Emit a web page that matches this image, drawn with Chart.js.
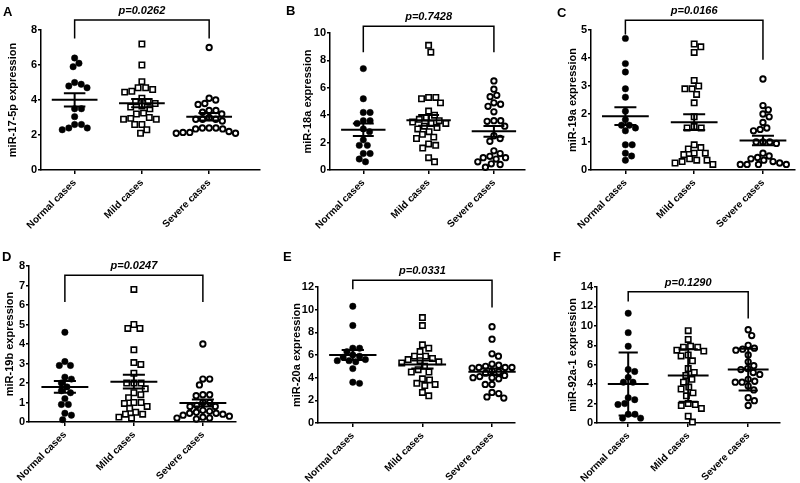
<!DOCTYPE html>
<html>
<head>
<meta charset="utf-8">
<script src="https://cdn.jsdelivr.net/npm/chart.js@4.4.1/dist/chart.umd.min.js"></script>
<style>
  html, body { margin: 0; padding: 0; background: #fff; }
  #wrap { position: relative; width: 800px; height: 483px; overflow: hidden; }
  #wrap canvas { position: absolute; }
  .letter { position: absolute; font: bold 13px 'Liberation Sans', Arial, sans-serif; line-height: 13px; color: #000; }
</style>
</head>
<body>
<div id="wrap"></div>
<script>
const groups = ['Normal cases', 'Mild cases', 'Severe cases'];

// A: miR-17-5p
const a_normal = [6.4, 6.1, 5.9, 5.0, 4.9, 4.8, 4.7, 3.5, 3.5, 3.05, 2.6, 2.6, 2.4, 2.4, 2.3];
const a_mild = [7.2, 6.0, 5.05, 4.7, 4.7, 4.6, 4.5, 4.45, 4.1, 3.9, 3.9, 3.8, 3.65, 3.6, 3.5, 3.25, 3.2, 3.0, 2.95, 2.9, 2.9, 2.6, 2.6, 2.3, 2.1];
const a_severe = [7.0, 4.1, 4.0, 3.8, 3.75, 3.4, 3.4, 3.3, 3.2, 3.0, 2.9, 2.9, 2.9, 2.8, 2.4, 2.4, 2.35, 2.35, 2.4, 2.2, 2.15, 2.1, 2.1, 2.15];
// B: miR-18a
const b_normal = [7.4, 5.2, 4.2, 4.2, 3.6, 3.6, 3.4, 3.0, 2.8, 2.2, 1.8, 1.8, 1.2, 1.2, 0.8, 0.6];
const b_mild = [9.1, 8.6, 5.3, 5.3, 5.2, 4.9, 4.3, 4.0, 3.8, 3.7, 3.6, 3.5, 3.4, 3.4, 3.2, 3.1, 3.0, 2.8, 2.6, 2.4, 2.3, 1.9, 1.8, 1.6, 0.9, 0.6];
const b_severe = [6.5, 5.9, 5.45, 5.35, 4.9, 4.8, 4.65, 4.25, 3.6, 3.6, 3.55, 3.2, 2.5, 2.3, 2.1, 1.4, 1.2, 1.0, 0.9, 0.9, 0.8, 0.6, 0.45, 0.4, 0.2];
// C: miR-19a
const c_normal = [4.7, 3.8, 3.5, 2.9, 2.6, 2.1, 1.8, 1.6, 1.6, 1.5, 1.4, 0.9, 0.9, 0.6, 0.5, 0.35];
const c_mild = [4.5, 4.4, 4.2, 3.2, 3.0, 2.9, 2.9, 2.7, 2.4, 1.9, 1.55, 1.5, 1.5, 0.9, 0.8, 0.75, 0.6, 0.6, 0.55, 0.4, 0.35, 0.35, 0.3, 0.25, 0.2];
const c_severe = [3.25, 2.3, 2.15, 2.0, 1.9, 1.7, 1.5, 1.45, 1.4, 1.0, 1.0, 1.0, 0.95, 0.6, 0.5, 0.45, 0.4, 0.35, 0.3, 0.25, 0.2, 0.2, 0.2, 0.2];
// D: miR-19b
const d_normal = [4.6, 3.1, 2.9, 2.9, 2.3, 2.2, 2.0, 1.8, 1.6, 1.5, 1.2, 0.9, 0.9, 0.45, 0.35, 0.12];
const d_mild = [6.8, 5.0, 4.8, 4.8, 3.7, 3.05, 2.95, 2.5, 2.0, 2.0, 2.0, 1.7, 1.5, 1.4, 1.25, 1.0, 1.0, 0.95, 0.8, 0.7, 0.5, 0.4, 0.4, 0.25, 0.2];
const d_severe = [4.0, 2.2, 2.2, 1.9, 1.4, 1.4, 1.35, 1.0, 1.0, 0.85, 0.8, 0.8, 0.6, 0.55, 0.5, 0.45, 0.45, 0.4, 0.35, 0.3, 0.25, 0.2, 0.2, 0.15];
// E: miR-20a
const e_normal = [10.3, 8.6, 6.6, 6.6, 6.3, 6.0, 5.8, 5.9, 5.6, 5.5, 5.5, 5.4, 4.8, 3.6, 3.5];
const e_mild = [9.3, 8.6, 6.9, 6.6, 6.3, 5.9, 5.9, 5.7, 5.6, 5.5, 5.4, 5.3, 5.0, 4.7, 4.5, 4.5, 3.9, 3.8, 3.5, 3.4, 3.3, 2.7, 2.4];
const e_severe = [8.5, 7.4, 6.1, 5.9, 5.2, 5.1, 5.0, 4.9, 4.9, 4.9, 4.85, 4.6, 4.5, 4.4, 4.2, 4.1, 4.0, 4.0, 3.9, 3.4, 3.4, 2.7, 2.6, 2.3, 2.2];
// F: miR-92a-1
const f_normal = [11.3, 9.3, 7.9, 5.5, 5.3, 4.7, 4.2, 4.2, 2.6, 2.4, 2.0, 1.9, 0.9, 0.9, 0.5, 0.5];
const f_mild = [9.5, 8.6, 7.9, 7.8, 7.8, 7.5, 7.4, 7.0, 6.9, 6.4, 5.6, 5.2, 4.9, 4.5, 4.2, 3.7, 3.5, 3.1, 2.8, 2.0, 1.9, 1.8, 1.5, 0.7, 0.1];
const f_severe = [9.6, 9.0, 8.0, 7.7, 7.6, 7.5, 7.0, 6.3, 5.9, 5.6, 5.5, 5.2, 5.0, 4.5, 4.3, 4.2, 4.2, 3.8, 3.4, 2.6, 2.3, 1.8];

const panelLetters = ['A', 'B', 'C', 'D', 'E', 'F'];
const yTitles = ['miR-17-5p expression', 'miR-18a expression', 'miR-19a expression',
                 'miR-19b expression', 'miR-20a expression', 'miR-92a-1 expression'];
const pValues = ['0.0262', '0.7428', '0.0166', '0.0247', '0.0331', '0.1290'];
const yMax = [8, 10, 5, 8, 12, 14];
const yStep = [2, 2, 1, 1, 2, 2];
const errorKind = ['sem', 'sem', 'sem', 'sem', 'sem', 'sd'];
// significance bracket, in y units: top bar, left leg end, right leg end
const bracketTop = [8.57, 10.5, 5.35, 7.53, 12.6, 13.5];
const bracketLeft = [7.52, 8.6, 4.84, 6.16, 11.8, 12.5];
const bracketRight = [7.52, 8.6, 3.94, 6.16, 10.2, 10.75];

const series = [
  [a_normal, a_mild, a_severe],
  [b_normal, b_mild, b_severe],
  [c_normal, c_mild, c_severe],
  [d_normal, d_mild, d_severe],
  [e_normal, e_mild, e_severe],
  [f_normal, f_mild, f_severe]
];

// layout of each panel on the page (canvas box, plot area, x range, title centre, letter)
const boxes = [
  { x: 0,   y: 0,   w: 265, h: 240, area: [41, 30, 262, 170],  xr: [0.5, 3.75],  titleX: 13,  letter: [3, 5] },
  { x: 265, y: 0,   w: 265, h: 240, area: [330, 33, 533, 170], xr: [0.49, 3.47], titleX: 308, letter: [286, 4] },
  { x: 530, y: 0,   w: 270, h: 240, area: [591, 30, 797, 170], xr: [0.5, 3.46],  titleX: 573, letter: [557, 6] },
  { x: 0,   y: 240, w: 265, h: 243, area: [29, 266, 236, 422], xr: [0.48, 3.48], titleX: 10,  letter: [2, 250] },
  { x: 265, y: 240, w: 265, h: 243, area: [318, 287, 515, 423], xr: [0.5, 3.33],  titleX: 297, letter: [283, 250] },
  { x: 530, y: 240, w: 270, h: 243, area: [597, 287, 780, 423], xr: [0.48, 3.53], titleX: 573, letter: [553, 250] }
];

const FONT = "'Liberation Sans', Arial, sans-serif";
Chart.defaults.font.family = FONT;
Chart.defaults.color = '#000';

const pLabel = {
  id: 'pLabel',
  afterDraw(chart, args, opts) {
    const { ctx, scales: { x, y } } = chart;
    const cx = (x.getPixelForValue(1) + x.getPixelForValue(3)) / 2;
    const cy = y.getPixelForValue(opts.top) - 6;
    ctx.save();
    ctx.font = 'italic bold 11px ' + FONT;
    ctx.textAlign = 'center';
    ctx.textBaseline = 'alphabetic';
    ctx.fillStyle = '#000';
    ctx.fillText('p=' + opts.text, cx, cy);
    ctx.restore();
  }
};

function statsPath(groupVals, kind) {
  const path = [];
  groupVals.forEach((vals, g) => {
    const n = vals.length;
    const m = vals.reduce((s, v) => s + v, 0) / n;
    const sd = Math.sqrt(vals.reduce((s, v) => s + (v - m) * (v - m), 0) / (n - 1));
    const e = kind === 'sd' ? sd : sd / Math.sqrt(n);
    const c = g + 1;
    path.push(
      { x: c - 0.34, y: m }, { x: c + 0.34, y: m }, { x: c, y: null },
      { x: c - 0.16, y: m + e }, { x: c + 0.16, y: m + e }, { x: c, y: null },
      { x: c - 0.16, y: m - e }, { x: c + 0.16, y: m - e }, { x: c, y: null },
      { x: c, y: m - e }, { x: c, y: m + e }, { x: c, y: null }
    );
  });
  return path;
}

// spread points of one group sideways so they don't overlap (beeswarm)
function swarm(chart) {
  const xs = chart.scales.x, ys = chart.scales.y;
  const ppu = xs.width / (xs.max - xs.min);
  chart.data.datasets.forEach(ds => {
    if (!ds.swarm) return;
    const D = ds.swarm;
    const pts = ds.data.map((p, k) => ({ k, py: ys.getPixelForValue(p.y), x: 0 }));
    pts.sort((a, b) => a.py - b.py);
    const placed = [];
    pts.forEach(p => {
      const cands = [0];
      placed.forEach(q => {
        const dy = p.py - q.py;
        if (Math.abs(dy) < D) {
          const dx = Math.sqrt(D * D - dy * dy);
          cands.push(q.x + dx, q.x - dx);
        }
      });
      cands.sort((a, b) => Math.abs(a) - Math.abs(b));
      p.x = cands.find(c => placed.every(q => Math.hypot(c - q.x, p.py - q.py) >= D - 0.01));
      placed.push(p);
    });
    pts.forEach(p => { ds.data[p.k].x = ds.center + p.x / ppu; });
  });
  chart.update('none');
}

function makePanel(i) {
  const b = boxes[i];
  const wrap = document.getElementById('wrap');
  const canvas = document.createElement('canvas');
  canvas.width = b.w;
  canvas.height = b.h;
  canvas.style.left = b.x + 'px';
  canvas.style.top = b.y + 'px';
  canvas.style.width = b.w + 'px';
  canvas.style.height = b.h + 'px';
  wrap.appendChild(canvas);

  const letter = document.createElement('div');
  letter.className = 'letter';
  letter.textContent = panelLetters[i];
  letter.style.left = b.letter[0] + 'px';
  letter.style.top = b.letter[1] + 'px';
  wrap.appendChild(letter);

  const [L, T, R, B] = b.area;
  const yAxisW = L - b.x;
  const xAxisH = b.y + b.h - B;

  const datasets = series[i].map((vals, g) => ({
    type: 'scatter',
    data: vals.map(v => ({ x: g + 1, y: v })),
    center: g + 1,
    swarm: g === 1 ? 7.2 : 6.8,
    pointStyle: g === 1 ? 'rect' : 'circle',
    pointRadius: g === 0 ? 3.2 : (g === 1 ? 3.8 : 2.7),
    pointHoverRadius: g === 0 ? 3.2 : (g === 1 ? 3.8 : 2.7),
    backgroundColor: g === 0 ? '#000' : '#fff',
    borderColor: '#000',
    borderWidth: g === 0 ? 0.5 : (g === 1 ? 1.6 : 1.9),
    clip: false,
    order: 2
  }));

  datasets.push({
    type: 'line',
    data: statsPath(series[i], errorKind[i]),
    borderColor: '#000',
    borderWidth: 2,
    pointRadius: 0,
    spanGaps: false,
    fill: false,
    clip: false,
    order: 1
  });

  datasets.push({
    type: 'line',
    data: [{ x: 1, y: bracketLeft[i] }, { x: 1, y: bracketTop[i] },
           { x: 3, y: bracketTop[i] }, { x: 3, y: bracketRight[i] }],
    borderColor: '#000',
    borderWidth: 1.5,
    pointRadius: 0,
    fill: false,
    clip: false,
    order: 1
  });

  const titleSize = 11;
  const chart = new Chart(canvas, {
    type: 'scatter',
    data: { datasets },
    plugins: [pLabel],
    options: {
      responsive: false,
      animation: false,
      events: [],
      layout: { padding: { top: T - b.y, right: b.x + b.w - R, left: 0, bottom: 0 } },
      plugins: {
        legend: { display: false },
        tooltip: { enabled: false },
        pLabel: { text: pValues[i], top: bracketTop[i] }
      },
      scales: {
        x: {
          type: 'linear',
          min: b.xr[0],
          max: b.xr[1],
          afterBuildTicks: s => { s.ticks = [1, 2, 3].map(v => ({ value: v })); },
          afterFit: s => { s.height = xAxisH; },
          ticks: {
            callback: v => groups[v - 1],
            minRotation: 45,
            maxRotation: 45,
            autoSkip: false,
            padding: 3,
            color: '#000',
            font: { size: 10, weight: 'bold' }
          },
          grid: { display: true, drawOnChartArea: false, drawTicks: true, tickLength: 4, color: '#000', lineWidth: 1.5 },
          border: { display: true, color: '#000', width: 1.5 }
        },
        y: {
          min: 0,
          max: yMax[i],
          afterFit: s => { s.width = yAxisW; },
          ticks: { stepSize: yStep[i], padding: 1, color: '#000', font: { size: 11, weight: 'bold' } },
          grid: { display: true, drawOnChartArea: false, drawTicks: true, tickLength: 3, color: '#000', lineWidth: 1.5 },
          border: { display: true, color: '#000', width: 1.5 },
          title: {
            display: true,
            text: yTitles[i],
            color: '#000',
            font: { size: titleSize, weight: 'bold' },
            padding: { top: b.titleX - b.x - titleSize * 0.6, bottom: 0 }
          }
        }
      }
    }
  });
  swarm(chart);
}

for (let i = 0; i < 6; i++) makePanel(i);
</script>
</body>
</html>
